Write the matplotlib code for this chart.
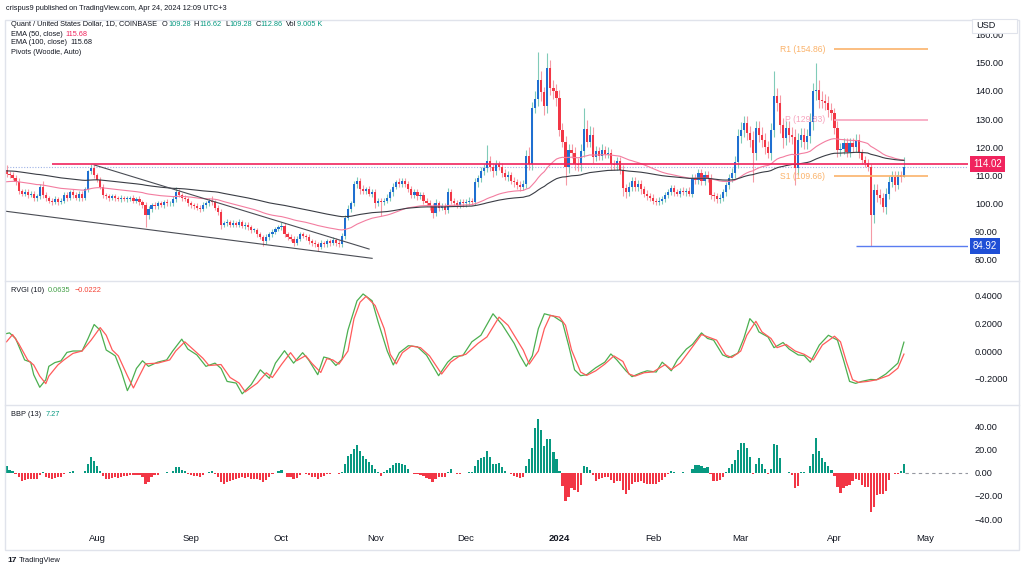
import numpy as np
import pandas as pd
import matplotlib
matplotlib.use("Agg")
import matplotlib.pyplot as plt
from matplotlib.lines import Line2D
from matplotlib.patches import Rectangle
from matplotlib.transforms import IdentityTransform, blended_transform_factory

plt.rcParams['font.family'] = ['Liberation Sans', 'DejaVu Sans']

# ---- data (QNT/USD daily, 2023-07-02 .. 2024-04-24) ----
start = pd.Timestamp("2023-07-02")
first_open = 112.0
closes_jul = [110.5, 110.0, 109.0, 107.5, 104.5, 103.5, 104.0, 103.0, 103.5, 102.0,
              102.5, 106.0, 103.0, 102.0, 101.0, 100.5, 101.5, 100.5, 101.0, 103.0,
              102.0, 104.0, 103.0, 102.0, 103.5, 102.0, 105.0, 111.5, 112.5, 110.0]
closes_aug = [108.5, 106.0, 103.0, 102.5, 102.0, 102.5, 102.0, 101.5, 102.0, 101.5,
              101.5, 102.0, 101.0, 101.5, 100.5, 99.5, 96.0, 98.0, 99.5, 99.0,
              100.0, 99.5, 100.5, 100.0, 100.0, 101.5, 104.0, 103.0, 102.0, 101.5, 100.0]
closes_sep = [99.5, 99.0, 98.5, 98.0, 99.5, 100.0, 101.0, 100.5, 98.5, 97.0,
              92.5, 93.0, 93.5, 92.5, 93.0, 92.5, 93.5, 92.0, 92.5, 91.5,
              90.5, 90.5, 89.0, 88.0, 86.5, 88.0, 89.0, 90.0, 91.0, 91.5]
closes_oct = [92.0, 89.0, 88.0, 87.5, 86.0, 87.5, 89.0, 88.5, 88.0, 86.5,
              86.0, 85.5, 84.5, 86.0, 85.5, 86.5, 86.0, 87.0, 86.0, 85.5,
              88.5, 95.0, 98.0, 100.0, 107.0, 108.0, 105.0, 104.5, 105.0, 103.5, 104.0]
closes_nov = [100.0, 101.0, 100.5, 101.0, 102.0, 104.0, 106.0, 107.5, 107.0, 108.0,
              107.0, 105.0, 103.0, 104.0, 102.5, 103.0, 101.0, 100.0, 99.0, 96.5,
              100.0, 98.5, 99.0, 97.5, 104.0, 101.0, 100.0, 99.5, 100.5, 100.0]
closes_dec = [100.5, 101.0, 100.5, 107.5, 109.0, 111.5, 112.5, 115.0, 113.0, 111.5,
              114.0, 113.0, 111.0, 109.5, 110.0, 108.0, 107.5, 106.5, 106.0, 107.0,
              117.0, 114.0, 134.0, 137.0, 144.0, 139.5, 134.5, 148.0, 141.0, 140.0, 137.5]
closes_jan = [126.0, 122.0, 113.0, 119.0, 118.0, 114.0, 113.5, 118.5, 126.5, 122.0,
              124.5, 116.5, 118.5, 117.0, 119.0, 117.5, 118.0, 114.0, 113.5, 115.0,
              112.0, 105.5, 104.0, 106.0, 108.0, 106.0, 107.0, 105.0, 103.5, 102.5, 102.0]
closes_feb = [101.0, 100.5, 101.0, 101.5, 103.0, 104.0, 105.5, 104.0, 103.5, 104.5,
              104.0, 104.5, 103.5, 109.0, 108.5, 110.7, 108.0, 110.0, 109.0, 103.0,
              102.5, 101.5, 102.0, 104.0, 106.5, 109.0, 111.0, 114.7, 124.0]
closes_mar = [126.0, 128.6, 125.0, 122.6, 118.0, 126.8, 124.5, 122.6, 120.2, 118.0,
              126.2, 138.1, 135.7, 128.0, 123.2, 126.8, 124.5, 123.5, 112.5, 122.6,
              124.4, 122.0, 124.0, 129.1, 139.9, 140.5, 136.9, 136.3, 135.7, 133.3, 132.1]
closes_apr = [126.8, 119.0, 119.5, 121.4, 118.4, 121.4, 120.2, 122.6, 118.0, 115.5,
              114.3, 113.0, 96.0, 104.8, 103.0, 101.8, 98.8, 103.5, 107.7, 109.5,
              106.5, 110.1, 109.28, 112.86]

wick_up = [1.5, 1.0, 1.2, 1.0, 1.5, 0.8, 1.2, 1.0, 0.8, 1.0, 0.8, 1.0, 2.0, 1.0, 0.8,
           0.8, 1.0, 0.8, 1.0, 1.2, 1.0, 0.8, 1.0, 1.0, 0.8, 1.0, 1.0, 0.5, 1.5, 1.0,
           1.0, 1.0, 1.0, 0.8, 1.0, 0.8, 1.0, 0.8, 1.0, 0.8, 1.0, 0.8, 1.0, 0.8, 1.0,
           0.8, 1.0, 1.0, 0.8, 1.0, 0.8, 1.0, 0.8, 1.0, 0.8, 1.0, 1.8, 1.0, 0.8, 1.0, 0.8,
           1.0, 0.8, 1.0, 0.8, 1.0, 0.8, 1.0, 1.5, 0.8, 1.0, 1.0, 0.8, 1.0, 0.8, 1.0,
           0.8, 1.0, 0.8, 1.0, 0.8, 1.0, 0.8, 0.8, 1.0, 0.8, 1.0, 0.8, 1.0, 0.8, 1.0,
           1.5, 1.0, 0.8, 1.0, 0.8, 1.0, 0.8, 1.0, 0.8, 1.0, 0.8, 1.0, 0.8, 1.0, 0.8,
           1.0, 0.8, 1.0, 0.8, 1.0, 1.0, 1.0, 1.5, 1.0, 1.0, 1.5, 1.0, 1.5, 1.0, 1.2, 1.0,
           1.2, 1.0, 1.0, 1.0, 1.2, 1.0, 1.2, 1.0, 1.5, 1.0, 1.2, 1.0, 1.2, 1.0, 1.2,
           1.0, 1.2, 1.0, 1.2, 1.0, 1.5, 1.0, 1.2, 1.0, 1.5, 1.2, 1.0, 1.2, 1.0, 1.2,
           1.0, 1.2, 1.0, 1.5, 1.2, 1.5, 1.5, 5.8, 2.0, 1.5, 1.5, 1.2, 1.5, 1.2, 1.5,
           1.2, 1.5, 1.2, 1.5, 1.2, 2.0, 3.0, 2.0, 3.0, 9.8, 3.0, 2.0, 5.6, 3.0, 3.0, 2.5,
           3.0, 2.5, 2.0, 2.0, 2.0, 2.0, 2.0, 2.5, 7.5, 3.0, 3.0, 2.5, 2.0, 1.5, 2.0,
           1.5, 2.0, 1.5, 1.5, 1.5, 1.5, 1.5, 1.5, 1.5, 1.5, 1.5, 1.5, 1.5, 1.2, 1.2, 1.2,
           1.2, 1.0, 1.2, 1.0, 1.2, 1.0, 1.2, 1.0, 1.2, 1.0, 1.2, 1.0, 1.2, 1.5, 1.5,
           1.5, 1.5, 1.5, 1.5, 1.5, 1.2, 1.2, 1.2, 1.2, 1.2, 1.5, 1.5, 2.0, 2.5,
           3.0, 2.5, 2.5, 2.5, 3.0, 2.5, 2.5, 2.5, 2.5, 2.0, 2.5, 9.0, 3.0, 3.0, 2.5,
           2.5, 2.5, 2.5, 3.0, 2.5, 2.5, 2.5, 2.5, 3.0, 3.0, 9.5, 3.5, 3.0, 2.5, 2.5, 2.5,
           2.0, 2.5, 2.0, 2.0, 2.0, 2.0, 2.0, 2.0, 2.0, 1.5, 1.5, 1.5, 1.2, 2.0, 2.0,
           2.0, 2.0, 2.0, 2.0, 2.0, 2.0, 1.5, 1.5, 3.76]
wick_dn = [1.0, 1.0, 0.8, 1.0, 1.0, 1.0, 0.8, 1.0, 0.8, 1.0, 1.0, 1.0, 1.0, 1.0, 0.8,
           1.0, 0.8, 1.0, 0.8, 1.0, 1.0, 0.8, 1.0, 0.8, 1.0, 1.0, 0.8, 1.0, 1.0, 1.0,
           1.0, 1.0, 1.0, 0.8, 1.0, 0.8, 1.0, 0.8, 1.0, 0.8, 1.0, 0.8, 1.0, 0.8, 1.0,
           1.0, 4.5, 1.5, 1.0, 0.8, 1.0, 0.8, 1.0, 0.8, 1.0, 0.8, 1.0, 0.8, 1.0, 0.8, 1.0,
           1.0, 0.8, 1.0, 1.0, 0.8, 1.0, 0.8, 1.0, 0.8, 1.0, 1.5, 0.8, 1.0, 0.8, 1.0,
           0.8, 1.0, 0.8, 1.0, 0.8, 1.0, 0.8, 1.0, 0.8, 1.5, 0.8, 1.0, 0.8, 1.0, 0.8,
           1.0, 0.8, 1.0, 0.8, 1.0, 0.8, 1.0, 0.8, 1.0, 0.8, 1.0, 0.8, 1.5, 0.8, 1.0,
           0.8, 1.0, 0.8, 1.0, 0.8, 0.8, 1.0, 1.0, 1.2, 1.0, 1.5, 1.5, 1.0, 1.2, 1.0, 1.2,
           1.5, 1.0, 5.0, 1.2, 1.0, 1.0, 1.2, 1.0, 1.2, 1.0, 1.2, 1.0, 1.2, 1.0, 1.2,
           1.0, 1.2, 1.0, 1.2, 1.5, 1.0, 1.2, 1.0, 1.2, 1.0, 1.2, 1.0, 1.2, 1.0, 1.2,
           1.2, 1.0, 1.2, 1.0, 1.5, 1.2, 1.5, 1.2, 1.5, 2.0, 1.5, 1.2, 1.5, 1.2, 1.5,
           1.2, 1.5, 1.2, 1.5, 1.2, 1.5, 2.0, 2.0, 2.0, 2.5, 3.0, 3.0, 2.5, 2.5, 3.0, 3.0,
           2.0, 2.0, 6.5, 2.0, 2.0, 2.0, 2.0, 2.0, 2.0, 2.0, 2.0, 2.0, 1.5, 1.5, 1.5,
           1.5, 1.5, 2.0, 1.5, 1.5, 1.5, 3.0, 2.0, 1.5, 1.5, 1.5, 1.5, 1.5, 1.2, 1.2, 1.2,
           1.2, 1.2, 1.0, 1.2, 1.0, 1.2, 1.0, 1.2, 1.0, 1.2, 1.0, 1.2, 1.0, 1.2, 1.5,
           1.5, 1.5, 1.5, 1.5, 1.5, 1.5, 1.2, 1.2, 1.2, 1.2, 1.5, 1.5, 2.0, 2.0,
           2.5, 2.5, 2.5, 2.5, 10.3, 2.5, 2.5, 2.5, 2.5, 2.0, 2.5, 2.5, 3.0, 3.0, 3.5,
           2.5, 2.5, 2.5, 6.0, 2.5, 2.5, 2.5, 2.5, 2.5, 3.0, 3.0, 3.0, 2.5, 2.5, 2.5, 2.5,
           2.0, 2.5, 2.0, 2.0, 2.0, 2.0, 2.0, 2.0, 2.0, 1.5, 1.5, 1.5, 11.08, 3.0, 2.5,
           2.0, 2.0, 2.5, 2.0, 2.0, 2.0, 1.5, 1.5, 0.0]

ema50_seed, ema100_seed, ema13_seed = 107.6, 111.6, 108.5

# RVGI (10): main (green) and signal (red), sampled at day offsets
rvgi_days = [0, 1, 3, 6, 8, 9, 11, 13, 14, 16, 18, 20, 22, 25, 27, 29, 31, 33, 35, 36,
             38, 40, 41, 43, 45, 47, 50, 53, 55, 58, 60, 63, 66, 69, 71, 73, 76, 78, 81, 84,
             87, 89, 92, 95, 98, 100, 103, 105, 107, 109, 111, 113, 116, 118, 121, 123, 126,
             128, 130, 133, 136, 139, 143, 146, 148, 151, 154, 157, 161, 164, 168, 170, 172,
             174, 176, 178, 181, 184, 186, 188, 190, 192, 195, 198, 200, 202, 205, 207, 210,
             212, 215, 217, 219, 220, 222, 225, 227, 230, 232, 234, 237, 239, 242, 244, 246,
             248, 249, 252, 254, 257, 259, 262, 264, 266, 269, 272, 275, 277, 279, 281, 283,
             286, 288, 291, 295, 297]
rvgi_vals = [0.125, 0.13, 0.09, -0.064, -0.08, -0.17, -0.26, -0.206, -0.11, -0.083, -0.071,
             -0.01, 0.0, 0.0, 0.09, 0.19, 0.149, 0.007, -0.02, -0.035, -0.147, -0.284, -0.24,
             -0.125, -0.07, -0.11, -0.08, -0.064, 0.0, 0.085, 0.014, -0.028, -0.11, -0.087,
             -0.125, -0.218, -0.23, -0.307, -0.24, -0.135, -0.196, -0.087, 0.002, -0.087,
             -0.012, -0.064, -0.17, -0.043, -0.055, -0.104, -0.06, 0.15, 0.36, 0.409, 0.36,
             0.208, 0.0, -0.1, -0.012, 0.038, 0.03, -0.03, -0.177, -0.08, -0.04, -0.033,
             0.066, 0.113, 0.267, 0.19, 0.055, -0.035, -0.11, -0.035, 0.16, 0.267, 0.25,
             0.207, 0.043, -0.135, -0.177, -0.17, -0.12, -0.08, -0.021, -0.064, -0.142,
             -0.184, -0.156, -0.142, -0.151, -0.08, -0.12, -0.142, -0.064, 0.014, 0.047,
             0.13, 0.09, 0.078, -0.028, -0.047, -0.017, 0.09, 0.232, 0.184, 0.137, 0.101,
             0.024, 0.061, 0.014, -0.028, -0.033, -0.08, 0.043, 0.113, 0.078, -0.064, -0.218,
             -0.232, -0.218, -0.204, -0.206, -0.165, -0.087, 0.0635]
signal_days = [0, 2, 4, 7, 9, 11, 13, 14, 17, 19, 22, 25, 28, 31, 33, 35, 37, 40, 42, 44,
               46, 50, 54, 56, 59, 62, 65, 67, 71, 74, 77, 79, 83, 86, 88, 91, 94, 96, 99,
               101, 104, 106, 108, 110, 113, 115, 117, 119, 122, 125, 127, 129, 131, 134,
               137, 140, 144, 147, 150, 152, 156, 159, 163, 166, 168, 171, 173, 176, 178,
               180, 183, 185, 187, 190, 192, 195, 198, 201, 204, 206, 208, 211, 214, 218,
               220, 223, 226, 230, 233, 235, 238, 240, 243, 245, 248, 250, 253, 255, 258,
               261, 264, 267, 270, 274, 276, 278, 280, 282, 285, 288, 292, 295, 297]
signal_vals = [0.066, 0.118, 0.054, -0.064, -0.1, -0.18, -0.234, -0.18, -0.1, -0.064, -0.017,
               0.0, 0.078, 0.168, 0.113, 0.007, -0.035, -0.177, -0.265, -0.177, -0.092,
               -0.087, -0.064, 0.0, 0.066, 0.007, -0.052, -0.104, -0.097, -0.19, -0.23,
               -0.293, -0.23, -0.156, -0.19, -0.097, -0.012, -0.07, -0.033, -0.087, -0.154,
               -0.055, -0.064, -0.094, 0.0, 0.232, 0.35, 0.392, 0.326, 0.16, -0.024, -0.092,
               -0.012, 0.036, 0.024, -0.035, -0.165, -0.08, -0.035, -0.024, 0.054, 0.101,
               0.243, 0.184, 0.113, 0.007, -0.094, 0.0, 0.16, 0.255, 0.243, 0.184, 0.007,
               -0.151, -0.175, -0.142, -0.094, -0.035, -0.075, -0.165, -0.18, -0.156, -0.15,
               -0.097, -0.133, -0.087, 0.0, 0.118, 0.094, 0.078, -0.028, -0.047, 0.0, 0.113,
               0.213, 0.137, 0.09, 0.024, 0.047, 0.0, -0.024, -0.064, 0.043, 0.106, 0.066,
               -0.08, -0.206, -0.225, -0.218, -0.206, -0.175, -0.123, -0.0222]

# drawn lines / levels
wedge_upper_days, wedge_upper_prices = [29, 120], [113.7, 83.8]
wedge_lower_days, wedge_lower_prices = [0, 121], [97.2, 80.5]
resistance, resistance_from = 114.02, "2023-07-17"
support, support_from = 84.92, "2024-04-08"
pivot_names = ["R1", "P", "S1"]
pivot_levels = [154.86, 129.83, 109.66]
pivot_span = ["2024-04-01", "2024-05-02"]
month_ticks = ["2023-08-01", "2023-09-01", "2023-10-01", "2023-11-01", "2023-12-01",
               "2024-01-01", "2024-02-01", "2024-03-01", "2024-04-01", "2024-05-01"]
month_labels = ["Aug", "Sep", "Oct", "Nov", "Dec", "2024", "Feb", "Mar", "Apr", "May"]
price_ticks = [80, 90, 100, 110, 120, 130, 140, 150, 160]
rvgi_ticks = [-0.2, 0.0, 0.2, 0.4]
bbp_ticks = [-40, -20, 0, 20, 40]

# ---- derived series ----
closes = np.array(closes_jul + closes_aug + closes_sep + closes_oct + closes_nov +
                  closes_dec + closes_jan + closes_feb + closes_mar + closes_apr)
n = len(closes)
days = np.arange(n)
opens = np.r_[first_open, closes[:-1]]
highs = np.maximum(opens, closes) + np.array(wick_up)
lows = np.minimum(opens, closes) - np.array(wick_dn)


def ema(vals, span, seed):
    a = 2.0 / (span + 1)
    out, e = [], seed
    for v in vals:
        e = e + a * (v - e)
        out.append(e)
    return np.array(out)


ema50 = ema(closes, 50, ema50_seed)
ema100 = ema(closes, 100, ema100_seed)
bbp = highs + lows - 2 * ema(closes, 13, ema13_seed)


def di(s):
    return (pd.Timestamp(s) - start).days


W, H = 1024, 570
fig = plt.figure(figsize=(W / 100, H / 100), dpi=100)
L, R = 5, 968


def axes_px(top, bot):
    return fig.add_axes([L / W, 1 - bot / H, (R - L) / W, (bot - top) / H])


ax = axes_px(20, 280)
ax2 = axes_px(281, 404)
ax3 = axes_px(405, 526)
XL = (-0.5, 318.2)
TXT = '#131722'
GRID = '#e0e3eb'
UP, DN = '#1f6fd1', '#f23645'
UPW, DNW = '#80cbb8', '#f59aa5'

for a in (ax, ax2, ax3):
    a.set_xlim(*XL)
    for s in a.spines.values():
        s.set_visible(False)
    a.yaxis.tick_right()
    a.tick_params(axis='y', length=0, pad=5, labelsize=6.6, labelcolor=TXT)
    a.tick_params(axis='x', length=0)
    a.set_facecolor('none')

# ---- price pane ----
ax.set_ylim(72.8, 165.2)
up = closes >= opens
ax.vlines(days[up], lows[up], highs[up], color=UPW, lw=0.8, zorder=2)
ax.vlines(days[~up], lows[~up], highs[~up], color=DNW, lw=0.8, zorder=2)
body_lo = np.minimum(opens, closes)
body_h = np.maximum(np.abs(closes - opens), 0.3)
ax.bar(days[up], body_h[up], bottom=body_lo[up], width=0.72, color=UP, lw=0, zorder=3)
ax.bar(days[~up], body_h[~up], bottom=body_lo[~up], width=0.72, color=DN, lw=0, zorder=3)
ax.plot(days, ema50, color='#f37da0', lw=0.8, zorder=4)
ax.plot(days, ema100, color='#3a3d45', lw=0.8, zorder=4)
ax.plot(wedge_upper_days, wedge_upper_prices, color='#4a4d55', lw=0.8, zorder=4)
ax.plot(wedge_lower_days, wedge_lower_prices, color='#4a4d55', lw=0.8, zorder=4)
ax.hlines(closes[-1], days[0], XL[1], color='#9fb3e6', lw=0.8, linestyles=(0, (1, 1.5)), zorder=1)
ax.hlines(resistance, di(resistance_from), XL[1], color='#f0245e', lw=1.2, zorder=5)
ax.hlines(support, di(support_from), XL[1], color='#5a7cf0', lw=1.0, zorder=5)
piv_col = {'R1': '#fbb36b', 'P': '#f7a3bd', 'S1': '#fbb36b'}
for name, lvl in zip(pivot_names, pivot_levels):
    ax.hlines(lvl, di(pivot_span[0]), di(pivot_span[1]), color=piv_col[name], lw=1.2, zorder=5)
    ax.text(di(pivot_span[0]) - 3, lvl, f"{name} ({lvl:.2f})", color=piv_col[name],
            fontsize=6.2, ha='right', va='center', zorder=6)
ax.set_yticks(price_ticks)
ax.set_yticklabels([f"{v:.2f}" for v in price_ticks])
ax.set_xticks([])
bt = blended_transform_factory(ax.transAxes, ax.transData)
for val, col in [(resistance, '#f0245e'), (support, '#1f4fd6')]:
    ax.text(1 + 5 / (R - L), val, f"{val:.2f}", transform=bt, ha='left', va='center',
            fontsize=7, color='white', clip_on=False, zorder=10,
            bbox=dict(boxstyle='square,pad=0.3', fc=col, ec='none'))

# ---- RVGI pane ----
ax2.set_ylim(-0.380, 0.502)
ax2.plot(rvgi_days, rvgi_vals, color='#4caf50', lw=0.9)
ax2.plot(signal_days, signal_vals, color='#ff5b5b', lw=0.9)
ax2.set_yticks(rvgi_ticks)
ax2.set_yticklabels([f"{v:.4f}".replace('-', '\u2212') for v in rvgi_ticks])
ax2.set_xticks([])

# ---- BBP pane ----
ax3.set_ylim(-46.0, 58.5)
ax3.hlines(0, n - 0.5, XL[1], color='#9598a1', lw=0.8, linestyles=(0, (3, 3)), zorder=1)
ax3.bar(days, bbp, width=0.72, color=np.where(bbp >= 0, '#089981', '#f23645'), lw=0, zorder=2)
ax3.set_yticks(bbp_ticks)
ax3.set_yticklabels([f"{v:.2f}".replace('-', '\u2212') for v in bbp_ticks])
ax3.set_xticks([di(m) for m in month_ticks])
ax3.set_xticklabels(month_labels, fontsize=6.8, color=TXT)
ax3.tick_params(axis='x', pad=6)
for lab in ax3.get_xticklabels():
    if lab.get_text() == "2024":
        lab.set_fontweight('bold')

# ---- frame / separators ----
fig.add_artist(Rectangle((L / W, 1 - 550 / H), (1019 - L) / W, 530 / H, fill=False,
                         ec=GRID, lw=1, transform=fig.transFigure))
for yy in (280.5, 404.5):
    fig.add_artist(Line2D([L / W, 1019 / W], [1 - yy / H] * 2, color=GRID, lw=1,
                          transform=fig.transFigure))
fig.add_artist(Rectangle((972 / W, 1 - 33 / H), 45 / W, 14 / H, fc='white', ec=GRID,
                         lw=0.8, transform=fig.transFigure, zorder=20))
fig.text(976 / W, 1 - 25.5 / H, "USD", fontsize=6.6, color=TXT, ha='left', va='center',
         zorder=21)

# ---- header / legends ----
rend = fig.canvas.get_renderer()


def rich(x, y, parts, size=5.3):
    # parts: (text, colour, gap in px before the text)
    for s, c, g in parts:
        t = fig.text(x + g, H - y, s, color=c, fontsize=size, va='center', ha='left',
                     transform=IdentityTransform())
        x = t.get_window_extent(rend).x1


GRN = '#089981'
fig.text(6, H - 8, "crispus9 published on TradingView.com, Apr 24, 2024 12:09 UTC+3",
         fontsize=5.3, color=TXT, va='center', transform=IdentityTransform())
rich(11, 25, [("Quant / United States Dollar, 1D, COINBASE", TXT, 0), ("O", TXT, 5),
              ("109.28", GRN, 0.5), ("H", TXT, 3), ("116.62", GRN, 0.5), ("L", TXT, 3),
              ("109.28", GRN, 0.5), ("C", TXT, 3), ("112.86", GRN, 0.5), ("Vol", TXT, 3),
              ("9.005 K", GRN, 0.5)])
rich(11, 34, [("EMA (50, close)", TXT, 0), ("115.68", '#f0245e', 3)])
rich(11, 43, [("EMA (100, close)", TXT, 0), ("115.68", TXT, 3)])
rich(11, 52, [("Pivots (Woodie, Auto)", TXT, 0)])
rich(11, 290, [("RVGI (10)", TXT, 0), ("0.0635", '#43a047', 4), ("\u22120.0222", '#f44336', 4)])
rich(11, 415, [("BBP (13)", TXT, 0), ("7.27", GRN, 4)])
fig.text(7, H - 560, "17", fontsize=6, fontweight='bold', color=TXT, va='center',
         transform=IdentityTransform())
fig.text(19, H - 560, "TradingView", fontsize=5.4, color=TXT, va='center',
         transform=IdentityTransform())

fig.savefig("out.png", dpi=100)
